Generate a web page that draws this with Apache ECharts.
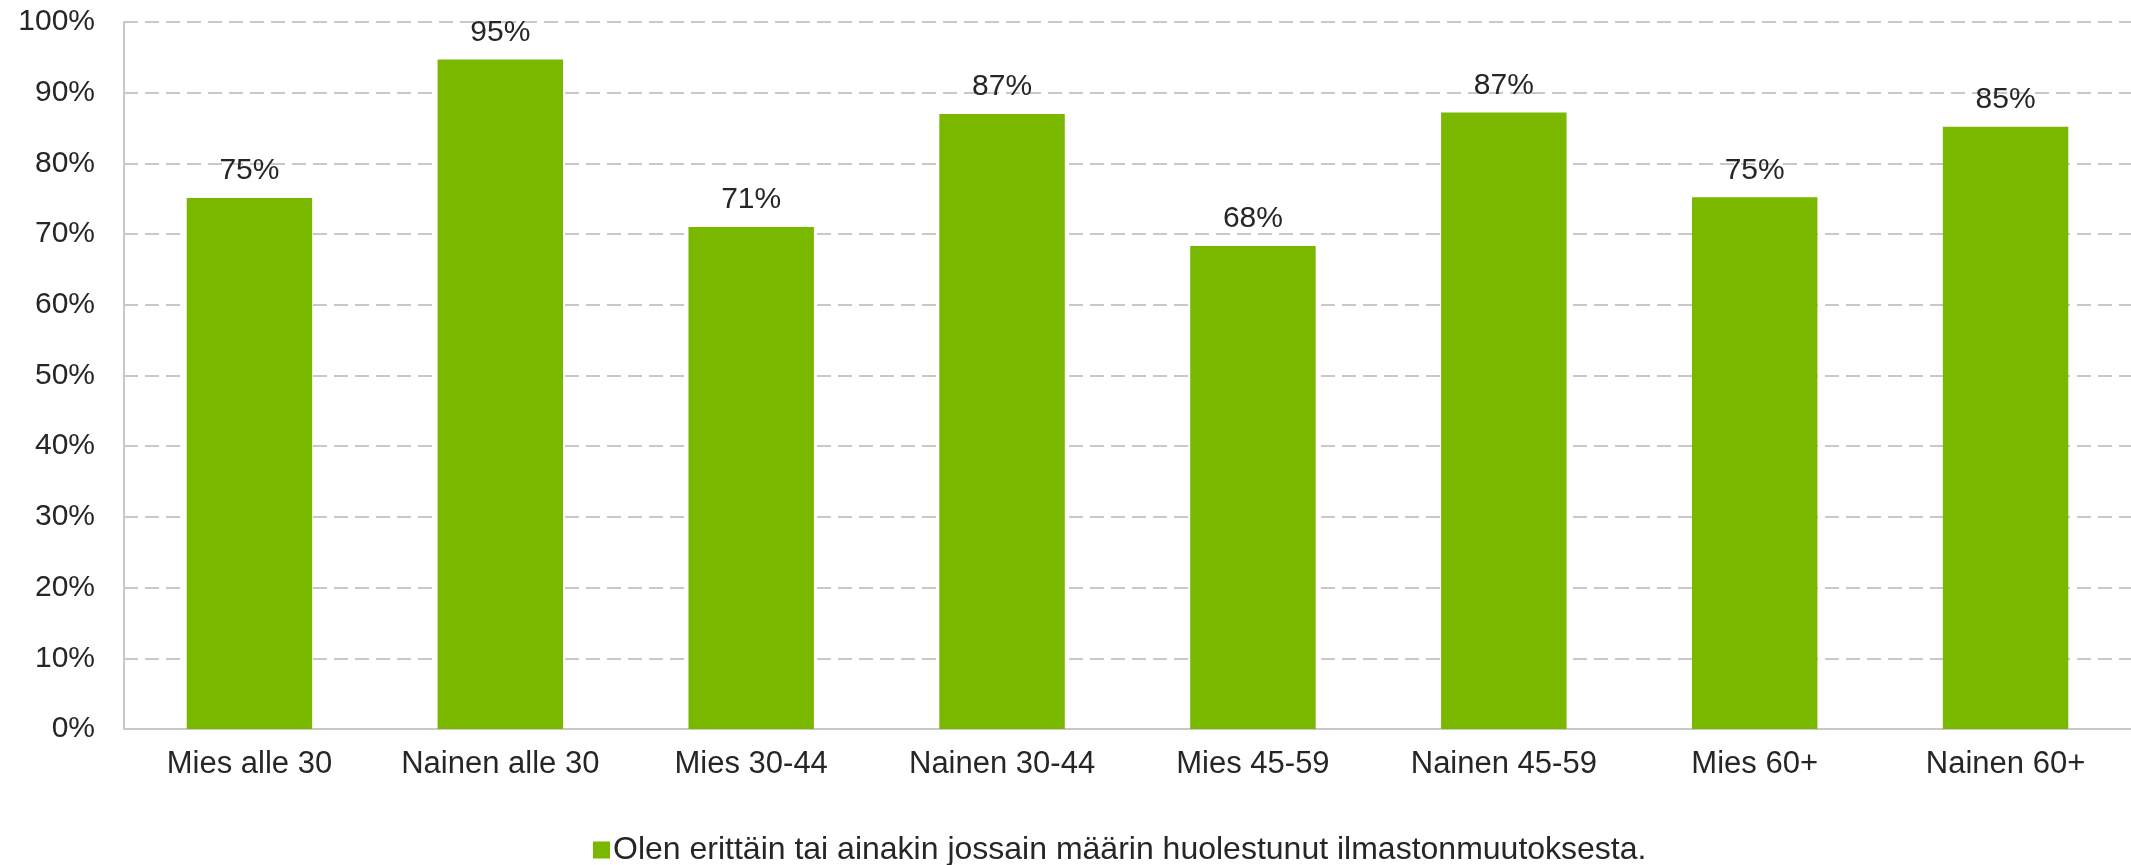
<!DOCTYPE html>
<html><head><meta charset="utf-8">
<script src="https://cdn.jsdelivr.net/npm/echarts@6/dist/echarts.min.js"></script>
<style>html,body{margin:0;padding:0;background:#fff}#c{width:2131px;height:865px}</style>
</head><body><div id="c"></div>
<script>
const categories = ["Mies alle 30","Nainen alle 30","Mies 30-44","Nainen 30-44","Mies 45-59","Nainen 45-59","Mies 60+","Nainen 60+"];
const seriesName = "Olen erittäin tai ainakin jossain määrin huolestunut ilmastonmuutoksesta.";
const values = [75.1, 94.7, 71.0, 87.0, 68.3, 87.2, 75.2, 85.2];
const yTicks = {min: 0, max: 100, interval: 10};

const font = "'Liberation Sans', Arial, sans-serif";
const chart = echarts.init(document.getElementById('c'), null, {renderer: 'canvas'});
chart.setOption({
  animation: false,
  backgroundColor: '#fff',
  grid: {left: 124, top: 22, width: 2014, height: 707, containLabel: false},
  legend: {
    data: [seriesName], left: 588, top: 829,
    itemWidth: 17, itemHeight: 17, itemGap: 10,
    icon: 'rect',
    textStyle: {fontFamily: font, fontSize: 32, color: '#262626', padding: [0,0,0,-2]}
  },
  xAxis: {
    type: 'category', data: categories,
    axisLine: {lineStyle: {color: '#c8c8c8', width: 2}},
    axisTick: {show: false},
    axisLabel: {fontFamily: font, fontSize: 31, color: '#262626', margin: 20, interval: 0}
  },
  yAxis: {
    type: 'value', min: yTicks.min, max: yTicks.max, interval: yTicks.interval,
    axisLine: {show: true, lineStyle: {color: '#c8c8c8', width: 2}},
    axisTick: {show: false},
    splitLine: {lineStyle: {color: '#c8c8c8', width: 2, type: [14, 7]}},
    axisLabel: {fontFamily: font, fontSize: 30, color: '#262626', margin: 29, formatter: v => v + '%'}
  },
  series: [{
    name: seriesName, type: 'bar', data: values, barWidth: '50%',
    itemStyle: {color: '#7ab800'},
    label: {show: true, position: 'top', distance: 12, fontFamily: font, fontSize: 30, color: '#262626',
      formatter: p => Math.round(p.value) + '%'}
  }]
});
</script></body></html>
